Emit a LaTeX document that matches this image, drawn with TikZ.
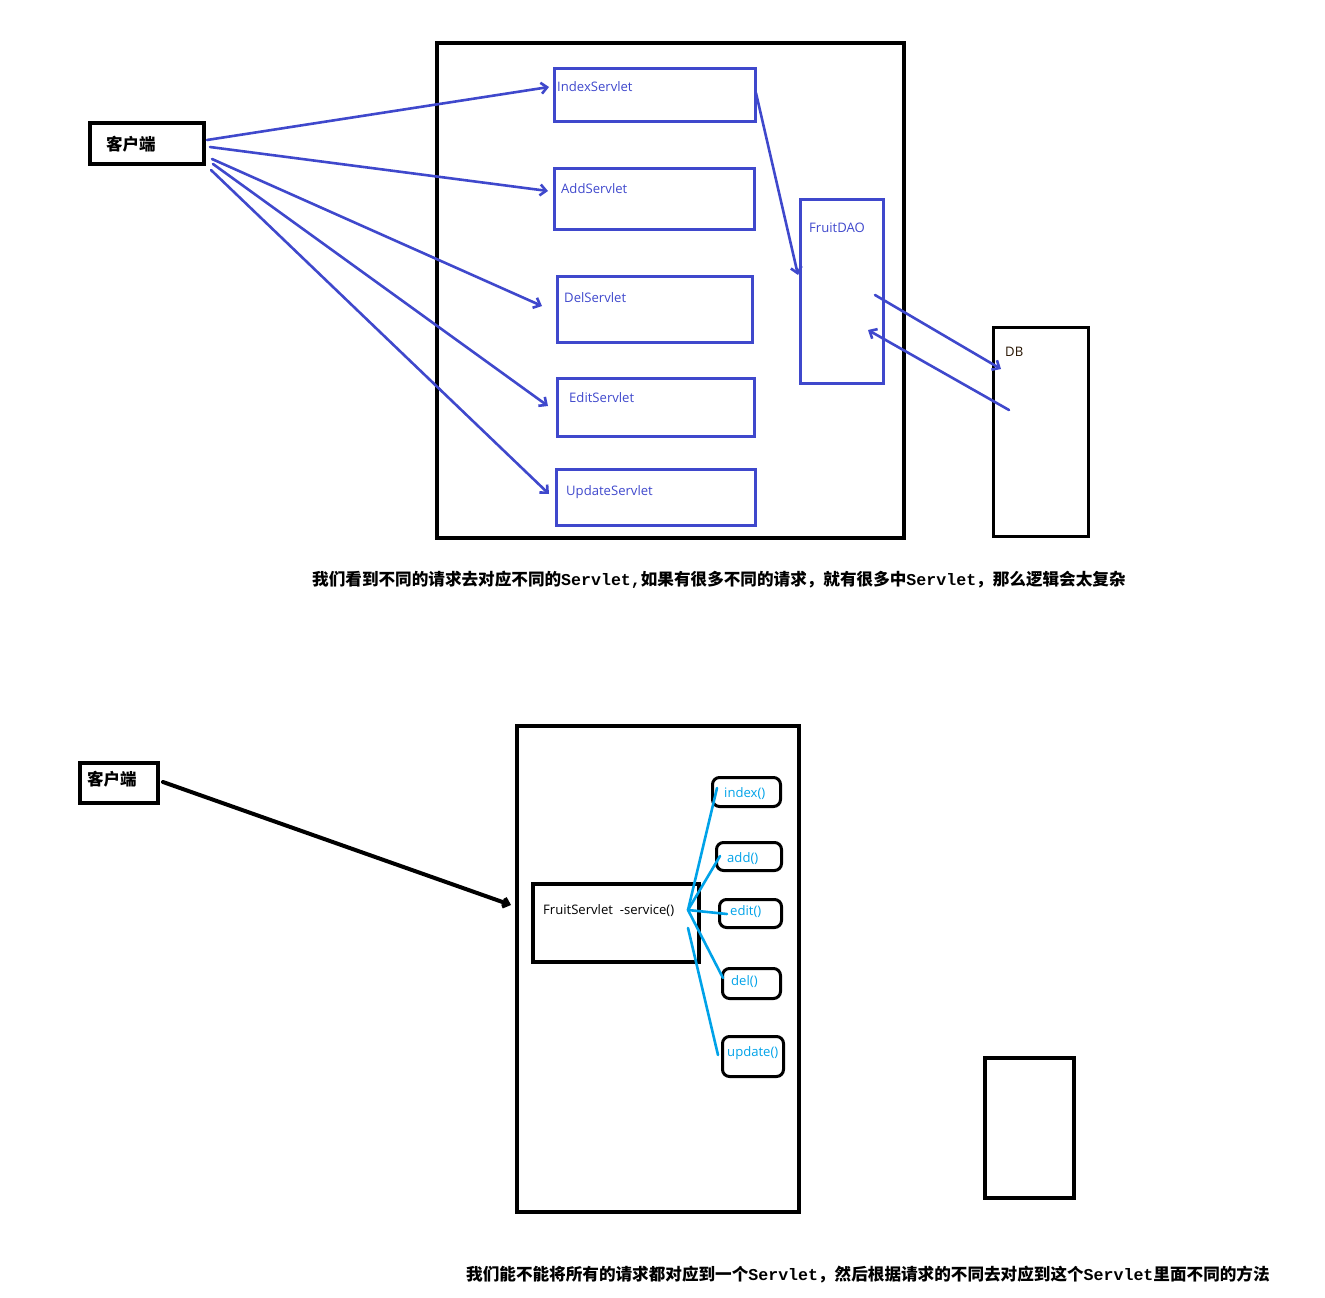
\documentclass[tikz,border=0pt]{standalone}
\usepackage{fontspec}
\setmainfont{Open Sans}
\newfontfamily\cjk{Noto Sans CJK SC}
\newfontfamily\cmono{Liberation Mono}
\usetikzlibrary{arrows.meta}
\definecolor{indigo}{HTML}{3F48CC}
\definecolor{sky}{HTML}{00A2E8}
\begin{document}
\begin{tikzpicture}[x=1pt,y=-1pt,
  blk/.style={draw=black, line width=4pt, inner sep=0pt, anchor=north west},
  bbox/.style={draw=indigo, line width=3pt, inner sep=0pt, anchor=north west},
  mbox/.style={draw=black, line width=3pt, rounded corners=7pt, inner sep=0pt, anchor=north west},
  lbl/.style={font=\fontsize{13.1}{15}\selectfont, text=indigo, anchor=west, inner sep=0pt},
  mlbl/.style={font=\fontsize{13.1}{15}\selectfont, text=sky, anchor=west, inner sep=0pt},
  klbl/.style={font=\cjk\bfseries\fontsize{16.5}{18}\selectfont, anchor=west, inner sep=0pt},
  captext/.style={font=\cjk\bfseries\fontsize{16.6}{18}\selectfont, anchor=west, inner sep=0pt},
  barrow/.style={draw=indigo, line width=2.6pt, line cap=round, -{Straight Barb[length=6pt,width=11pt]}},
  karrow/.style={draw=black, line width=4pt, line cap=round, -{Straight Barb[length=5pt,width=9pt]}},
  sline/.style={draw=sky, line width=2.6pt, line cap=round}
]
\useasboundingbox (0,0) rectangle (1325,1298);

% ---------- top diagram ----------
\node[blk, minimum width=467pt, minimum height=495pt] (frameA) at (435,41) {};
\node[blk, minimum width=114pt, minimum height=41pt] (clientA) at (88,121) {};
\node[klbl] (clientAt) at (106,144) {客户端};

\node[bbox, minimum width=201pt, minimum height=53pt] (index) at (553,67) {};
\node[lbl] (indext) at (557,87) {IndexServlet};
\node[bbox, minimum width=200pt, minimum height=61pt] (add) at (553,167) {};
\node[lbl] (addt) at (561,189) {AddServlet};
\node[bbox, minimum width=195pt, minimum height=66pt] (del) at (556,275) {};
\node[lbl] (delt) at (564,298) {DelServlet};
\node[bbox, minimum width=197pt, minimum height=58pt] (edit) at (556,377) {};
\node[lbl] (editt) at (569,398) {EditServlet};
\node[bbox, minimum width=199pt, minimum height=56pt] (update) at (555,468) {};
\node[lbl] (updatet) at (566,492) {UpdateServlet};
\node[bbox, minimum width=83pt, minimum height=184pt] (dao) at (799,198) {};
\node[lbl] (daot) at (809,228) {FruitDAO};
\node[draw=black, line width=3pt, inner sep=0pt, anchor=north west, minimum width=95pt, minimum height=209pt] (db) at (992,326) {};
\node[lbl, text=black!85!orange] (dbt) at (1005,352) {DB};

\coordinate (a1s) at (207,140); \coordinate (a1e) at (549,87);
\coordinate (a2s) at (210,147); \coordinate (a2e) at (548,191);
\coordinate (a3s) at (212,159); \coordinate (a3e) at (542,306);
\coordinate (a4s) at (213,164); \coordinate (a4e) at (548,406);
\coordinate (a5s) at (211,170); \coordinate (a5e) at (549,494);
\coordinate (a6s) at (756,93);  \coordinate (a6e) at (798,275);
\coordinate (a7s) at (875,295); \coordinate (a7e) at (1001,369);
\coordinate (a8s) at (1009,410); \coordinate (a8e) at (868,330);
\draw[barrow] (a1s) -- (a1e);
\draw[barrow] (a2s) -- (a2e);
\draw[barrow] (a3s) -- (a3e);
\draw[barrow] (a4s) -- (a4e);
\draw[barrow] (a5s) -- (a5e);
\draw[barrow] (a6s) -- (a6e);
\draw[barrow] (a7s) -- (a7e);
\draw[barrow] (a8s) -- (a8e);

\node[captext] (capA) at (312,580) {我们看到不同的请求去对应不同的{\cmono\bfseries Servlet,}如果有很多不同的请求，就有很多中{\cmono\bfseries Servlet}，那么逻辑会太复杂};

% ---------- bottom diagram ----------
\node[blk, minimum width=282pt, minimum height=486pt] (frameB) at (515,724) {};
\node[blk, minimum width=78pt, minimum height=40pt] (clientB) at (78,761) {};
\node[klbl] (clientBt) at (87,779) {客户端};
\node[blk, minimum width=166pt, minimum height=78pt] (fs) at (531,882) {};
\node[lbl, text=black] (fst) at (543,911) {FruitServlet\ \ -service()};

\node[mbox, minimum width=68pt, minimum height=29pt] (mindex) at (711,776) {};
\node[mlbl] (mindext) at (724,794) {index()};
\node[mbox, minimum width=65pt, minimum height=28pt] (madd) at (715,841) {};
\node[mlbl] (maddt) at (727,859) {add()};
\node[mbox, minimum width=62pt, minimum height=28pt] (medit) at (718,898) {};
\node[mlbl] (meditt) at (730,912) {edit()};
\node[mbox, minimum width=58pt, minimum height=30pt] (mdel) at (721,967) {};
\node[mlbl] (mdelt) at (731,982) {del()};
\node[mbox, minimum width=61pt, minimum height=40pt] (mupd) at (721,1035) {};
\node[mlbl] (mupdt) at (727,1053) {update()};

\node[blk, minimum width=89pt, minimum height=140pt] (boxC) at (983,1056) {};

\coordinate (ks) at (163,782); \coordinate (ke) at (511,905);
\draw[karrow] (ks) -- (ke);

\coordinate (hub) at (688,910);
\coordinate (hub2) at (688,928);
\coordinate (l1) at (717,788);
\coordinate (l2) at (720,856);
\coordinate (l3) at (727,914);
\coordinate (l4) at (723,978);
\coordinate (l5) at (718,1055);
\draw[sline] (l1) -- (hub);
\draw[sline] (l2) -- (hub);
\draw[sline] (l3) -- (hub);
\draw[sline] (l4) -- (hub);
\draw[sline] (l5) -- (hub2);

\node[captext] (capB) at (466,1275) {我们能不能将所有的请求都对应到一个{\cmono\bfseries Servlet}，然后根据请求的不同去对应到这个{\cmono\bfseries Servlet}里面不同的方法};
\end{tikzpicture}
\end{document}
